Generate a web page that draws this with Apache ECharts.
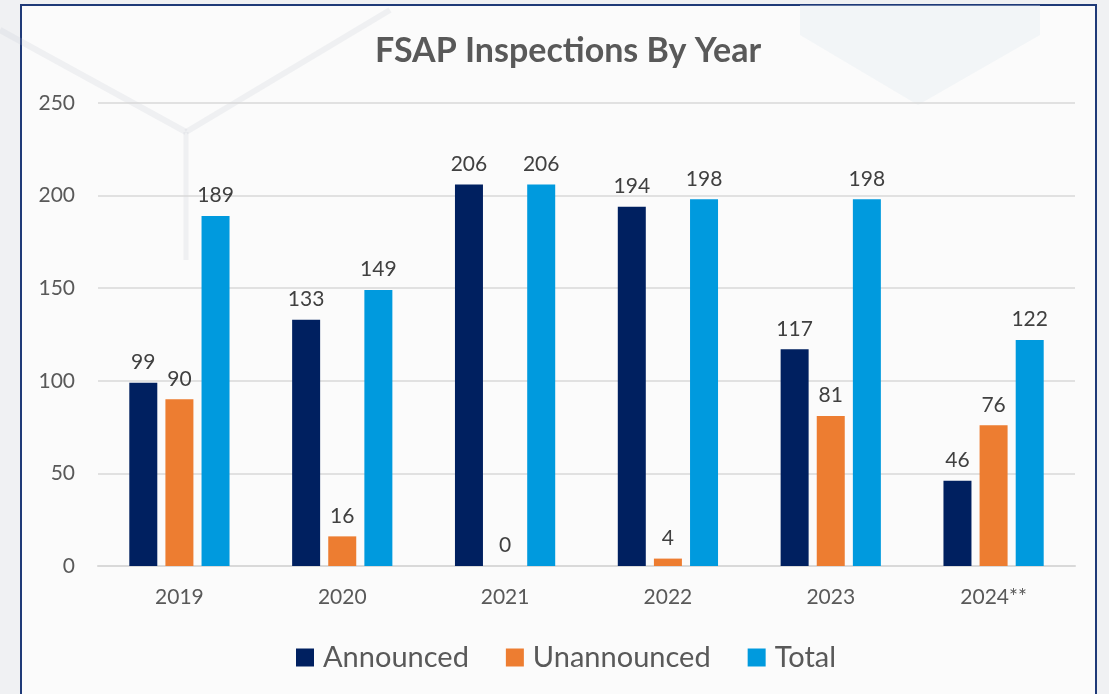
<!DOCTYPE html>
<html>
<head>
<meta charset="utf-8">
<script src="https://cdn.jsdelivr.net/npm/echarts@6/dist/echarts.min.js"></script>
<style>
html,body{margin:0;padding:0;background:#eef0f3;}
#main{width:1109px;height:694px;}
</style>
</head>
<body>
<div id="main"></div>
<script>
const categories = ['2019','2020','2021','2022','2023','2024**'];
const announced = [99,133,206,194,117,46];
const unannounced = [90,16,0,4,81,76];
const total = [189,149,206,198,198,122];
const yTicks = {min:0,max:250,interval:50};

const chart = echarts.init(document.getElementById('main'), null, {renderer:'canvas'});
const font = 'Lato, "Open Sans", sans-serif';
const lbl = {show:true,position:'top',color:'#404040',fontSize:21,fontFamily:font,distance:10};
const mk = (name,data,color)=>({name,type:'bar',data,barWidth:28,barGap:'29%',
  itemStyle:{color},label:lbl});
const deco = 'rgba(190,196,205,0.18)';
chart.setOption({
  backgroundColor:'#f0f1f3',
  graphic:[
    {type:'rect',shape:{x:21,y:5,width:1075,height:700},style:{fill:'#fbfbfb',stroke:'#1f3a78',lineWidth:2},z:-10},
    {type:'line',shape:{x1:0,y1:30,x2:186,y2:132},style:{stroke:deco,lineWidth:6},z:-9},
    {type:'line',shape:{x1:186,y1:132,x2:390,y2:10},style:{stroke:deco,lineWidth:6},z:-9},
    {type:'line',shape:{x1:186,y1:132,x2:186,y2:260},style:{stroke:deco,lineWidth:5},z:-9},
    {type:'polygon',shape:{points:[[800,5],[1040,5],[1040,35],[918,105],[800,35]]},style:{fill:'rgba(225,235,242,0.35)'},z:-9}
  ],
  title:{text:'FSAP Inspections By Year',left:563,top:29,textAlign:'center',
    textStyle:{fontSize:34,fontWeight:'bold',color:'#595959',fontFamily:font}},
  legend:{data:['Announced','Unannounced','Total'],left:291,top:638,itemWidth:18,itemHeight:18,itemGap:37,
    icon:'rect',textStyle:{fontSize:29,color:'#595959',fontFamily:font,padding:[0,0,0,4]}},
  grid:{left:98,right:34,top:103,bottom:128,containLabel:false},
  xAxis:{type:'category',data:categories,axisTick:{show:false},
    axisLine:{lineStyle:{color:'#d9d9d9',width:2}},
    axisLabel:{fontSize:21,color:'#595959',fontFamily:font,margin:21}},
  yAxis:{type:'value',min:yTicks.min,max:yTicks.max,interval:yTicks.interval,
    axisLabel:{fontSize:21,color:'#595959',fontFamily:font,margin:23}},
  series:[mk('Announced',announced,'#002060'),mk('Unannounced',unannounced,'#ed7d31'),mk('Total',total,'#009ade')]
});
chart.setOption({yAxis:{splitLine:{lineStyle:{color:'#d9d9d9',width:1.5}},axisLine:{show:false},axisTick:{show:false}}});
</script>
</body>
</html>
